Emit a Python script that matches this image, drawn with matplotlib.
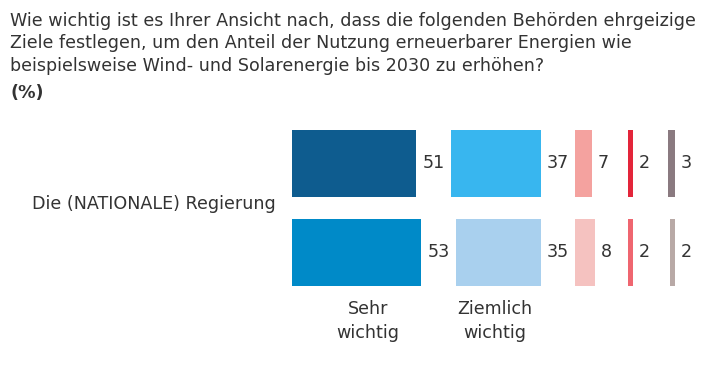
import matplotlib
matplotlib.use("Agg")
import matplotlib.pyplot as plt

# data
question = ("Wie wichtig ist es Ihrer Ansicht nach, dass die folgenden Behörden ehrgeizige\n"
            "Ziele festlegen, um den Anteil der Nutzung erneuerbarer Energien wie\n"
            "beispielsweise Wind- und Solarenergie bis 2030 zu erhöhen?")
row_label = "Die (NATIONALE) Regierung"
columns = ["Sehr\nwichtig", "Ziemlich\nwichtig", "", "", ""]
top_values = [51, 37, 7, 2, 3]
bottom_values = [53, 35, 8, 2, 2]
top_colors = ["#0E5C8F", "#38B6EF", "#F4A29F", "#E3253A", "#8A7A80"]
bottom_colors = ["#008AC8", "#A9D0EE", "#F5C2C0", "#EF6670", "#B8A9A6"]

W, H = 727, 380
scale = 2.44  # pixels per percentage point

# column anchors (pixels) and whether bars grow from the left or end at the right
anchors = [292, 541, 575, 633, 675]
align = ["left", "right", "left", "right", "right"]

fig = plt.figure(figsize=(W / 100, H / 100), dpi=100)
ax = fig.add_axes([0, 0, 1, 1])
ax.set_xlim(0, W / scale)
ax.set_ylim(H, 0)
ax.axis("off")

txt = "#333333"
font = "DejaVu Sans"

fig.text(10 / W, 1 - 12 / H, question, ha="left", va="top", fontsize=12.6,
         color=txt, family=font, linespacing=1.32)
fig.text(10 / W, 1 - 84 / H, "(%)", ha="left", va="top", fontsize=12.6,
         fontweight="bold", color=txt, family=font)

rows = [(163, top_values, top_colors), (252, bottom_values, bottom_colors)]
for yc, vals, cols in rows:
    for i, v in enumerate(vals):
        if align[i] == "left":
            start = anchors[i] / scale
        else:
            start = anchors[i] / scale - v
        ax.barh(yc, v, left=start, height=67, color=cols[i], edgecolor="none")
        lx = start + v if align[i] == "left" else anchors[i] / scale
        ax.text(lx + 6 / scale, yc, str(v), ha="left", va="center",
                fontsize=12.6, color=txt, family=font)

ax.text(276 / scale, 204, row_label, ha="right", va="center", fontsize=12.6,
        color=txt, family=font)

centers = [368, 495]
for c, lab in zip(centers, columns[:2]):
    ax.text(c / scale, 321, lab, ha="center", va="center", fontsize=12.6,
            color=txt, family=font, linespacing=1.5)

fig.savefig("out.png", dpi=100)
